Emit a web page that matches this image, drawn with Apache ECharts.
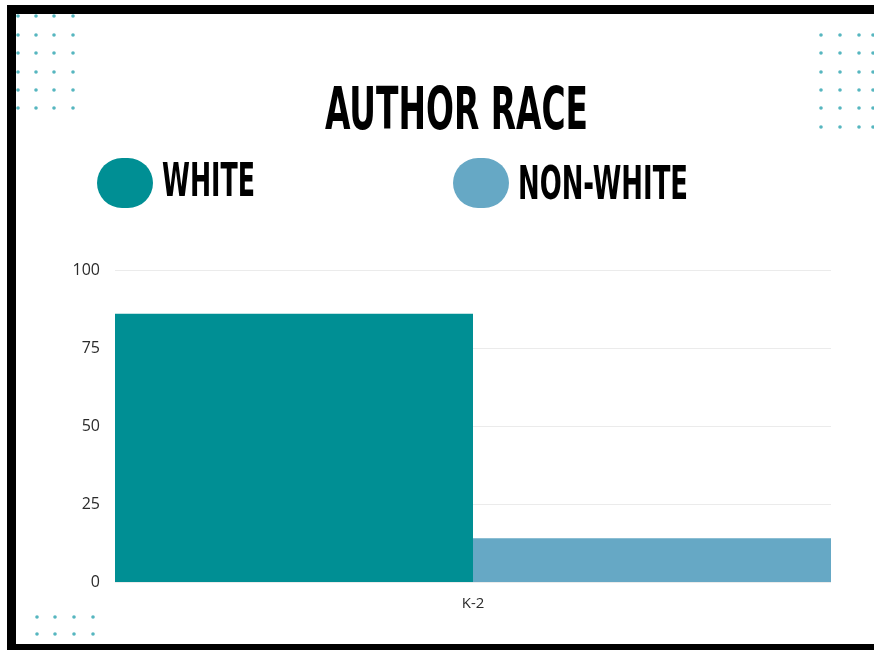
<!DOCTYPE html>
<html>
<head>
<meta charset="utf-8">
<script src="https://cdn.jsdelivr.net/npm/echarts@6/dist/echarts.min.js"></script>
<style>
html,body{margin:0;padding:0;background:#fff;}
#chart{width:874px;height:650px;}
</style>
</head>
<body>
<div id="chart"></div>
<script>
// ---- data ----
const titleText = 'AUTHOR RACE';
const categories = ['K-2'];
const seriesNames = ['WHITE', 'NON-WHITE'];
const whiteValues = [86];
const nonWhiteValues = [14];
const yTickValues = [0, 25, 50, 75, 100];
const seriesColors = ['#008f94', '#66a8c5'];

// ---- helpers ----
const HEAD_FONT = "'Liberation Sans Narrow','DejaVu Sans Condensed','Liberation Sans',sans-serif";
function scaleToWidth(text, size, targetW) {
  const ctx = document.createElement('canvas').getContext('2d');
  ctx.font = 'bold ' + size + 'px ' + HEAD_FONT;
  return targetW / ctx.measureText(text).width;
}
function headText(text, x, yMid, size, targetW) {
  return {
    type: 'text', x: x, y: yMid, scaleX: scaleToWidth(text, size, targetW), z: 10,
    style: { text: text, x: 0, y: 0, fill: '#000', font: 'bold ' + size + 'px ' + HEAD_FONT,
             textAlign: 'left', textVerticalAlign: 'middle' }
  };
}
function dotGrid(xs, ys) {
  const out = [];
  xs.forEach(x => ys.forEach(y => out.push({
    type: 'circle', shape: { cx: x, cy: y, r: 1.8 }, style: { fill: '#56b6bf' }, silent: true
  })));
  return out;
}

const graphics = [
  // frame
  { type: 'rect', shape: { x: 7, y: 5, width: 867, height: 9 }, style: { fill: '#000' } },
  { type: 'rect', shape: { x: 7, y: 5, width: 9, height: 645 }, style: { fill: '#000' } },
  { type: 'rect', shape: { x: 7, y: 644, width: 867, height: 6 }, style: { fill: '#000' } },
  // title
  headText(titleText, 325, 114, 58, 263),
  // legend
  { type: 'rect', shape: { x: 97, y: 158, width: 56, height: 50, r: 25 }, style: { fill: seriesColors[0] } },
  headText(seriesNames[0], 162, 184, 47, 93),
  { type: 'rect', shape: { x: 453, y: 158, width: 56, height: 50, r: 25 }, style: { fill: seriesColors[1] } },
  headText(seriesNames[1], 518, 187, 47, 170)
].concat(
  dotGrid([18, 36, 54, 73], [16, 35, 53, 72, 90, 108]),
  dotGrid([821, 840, 859, 873], [35, 53, 72, 90, 108, 127]),
  dotGrid([37, 55, 74, 93], [617, 634])
);

const chart = echarts.init(document.getElementById('chart'));
chart.setOption({
  backgroundColor: '#fff',
  animation: false,
  legend: { show: false, data: seriesNames },
  grid: { left: 115, right: 43, top: 270, bottom: 68, containLabel: false },
  xAxis: {
    type: 'category', data: categories,
    axisLine: { show: false }, axisTick: { show: false },
    axisLabel: { color: '#2b2b2b', fontSize: 15, fontFamily: "'Open Sans',sans-serif", margin: 14 }
  },
  yAxis: {
    type: 'value', min: yTickValues[0], max: yTickValues[yTickValues.length - 1],
    interval: yTickValues[1] - yTickValues[0],
    axisLine: { show: false }, axisTick: { show: false },
    splitLine: { lineStyle: { color: '#ebebeb', width: 1 } },
    axisLabel: { color: '#2b2b2b', fontSize: 16, fontFamily: "'Open Sans',sans-serif", margin: 15 }
  },
  series: [
    { name: seriesNames[0], type: 'bar', data: whiteValues, itemStyle: { color: seriesColors[0] },
      barGap: '0%', barCategoryGap: '0%' },
    { name: seriesNames[1], type: 'bar', data: nonWhiteValues, itemStyle: { color: seriesColors[1] },
      barGap: '0%', barCategoryGap: '0%' }
  ],
  graphic: graphics
});
</script>
</body>
</html>
